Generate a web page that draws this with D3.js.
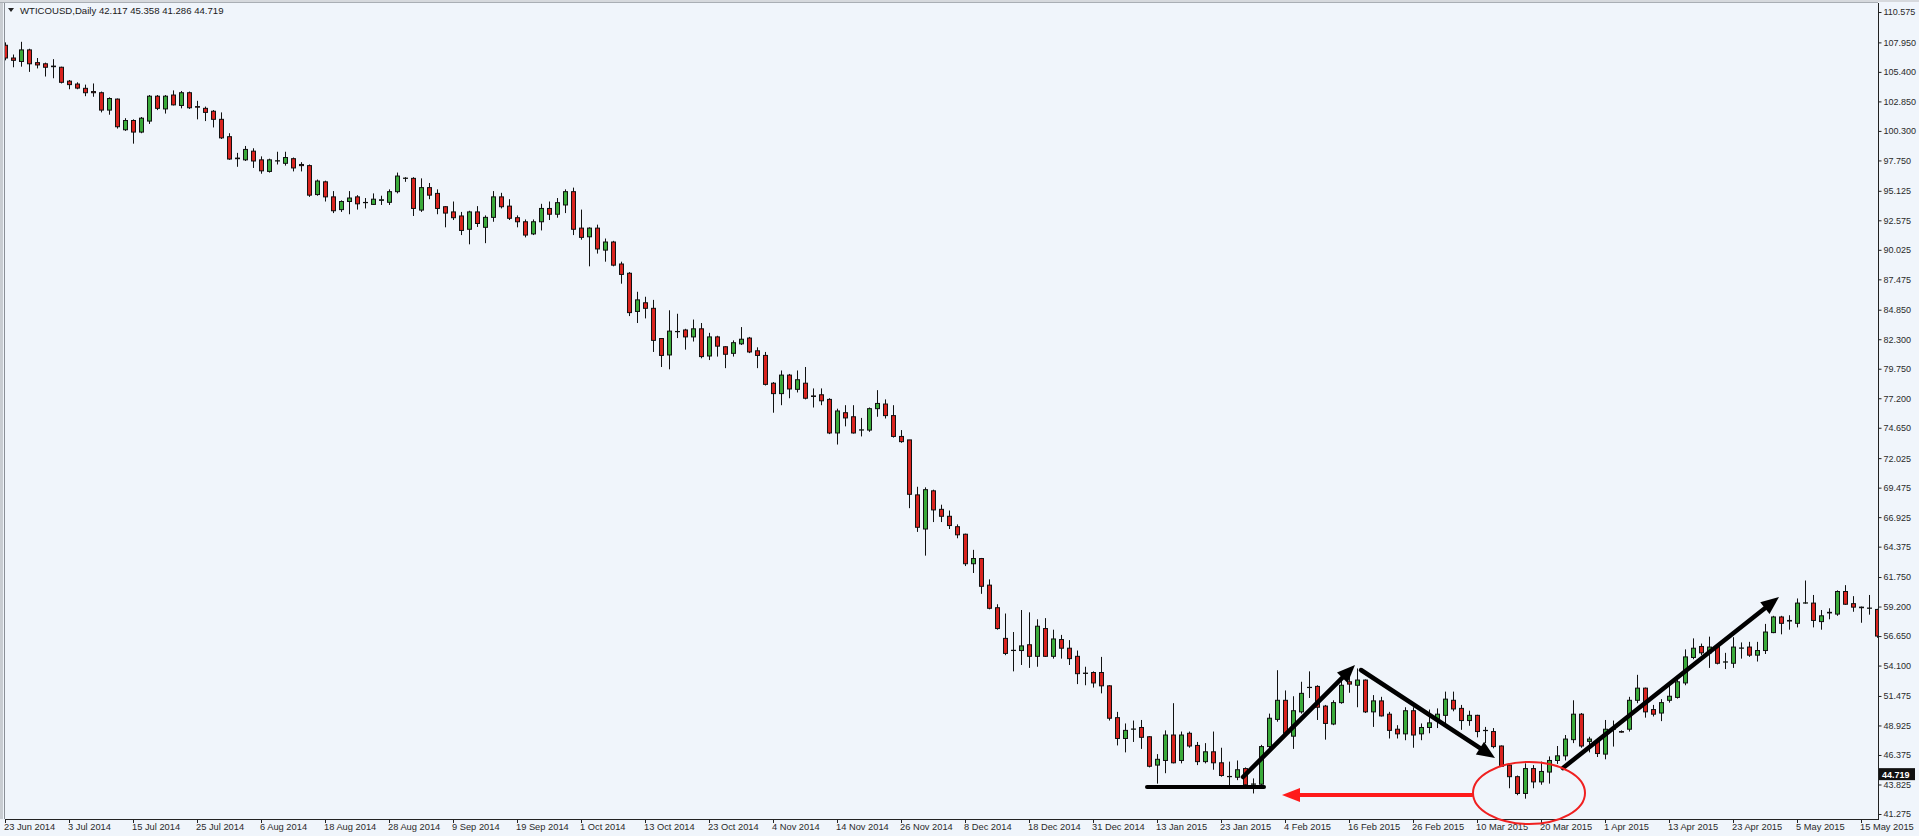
<!DOCTYPE html>
<html><head><meta charset="utf-8">
<script src="https://cdn.jsdelivr.net/npm/d3@7"></script>
<style>html,body{margin:0;padding:0;background:#F0F5FB;overflow:hidden}</style>
</head><body><svg id="c" width="1919" height="836"></svg>
<script>
// ---------- DATA ----------
const headerSymbol = "WTICOUSD,Daily";
const headerValues = ["42.117", "45.358", "41.286", "44.719"];
const lastPrice = 44.719;

const tickLabels = ["23 Jun 2014","3 Jul 2014","15 Jul 2014","25 Jul 2014","6 Aug 2014","18 Aug 2014","28 Aug 2014","9 Sep 2014","19 Sep 2014","1 Oct 2014","13 Oct 2014","23 Oct 2014","4 Nov 2014","14 Nov 2014","26 Nov 2014","8 Dec 2014","18 Dec 2014","31 Dec 2014","13 Jan 2015","23 Jan 2015","4 Feb 2015","16 Feb 2015","26 Feb 2015","10 Mar 2015","20 Mar 2015","1 Apr 2015","13 Apr 2015","23 Apr 2015","5 May 2015","15 May 2015"];
const barsPerTick = 8;

const priceTicks = [110.575,107.950,105.400,102.850,100.300,97.750,95.125,92.575,90.025,87.475,84.850,82.300,79.750,77.200,74.650,72.025,69.475,66.925,64.375,61.750,59.200,56.650,54.100,51.475,48.925,46.375,43.825,41.275];

const opens = [107.7,106.6,106.3,107.3,106.2,106.1,105.9,105.8,104.6,104.35,103.98,103.7,103.6,102.1,103.05,100.4,101.2,100.2,101.15,103.3,102.2,103.4,102.5,103.6,102.4,102.25,102.0,101.3,99.8,97.9,
97.8,98.55,97.8,96.8,97.7,97.5,97.9,97.4,97.3,94.8,95.9,94.6,93.5,94.2,94.6,94.1,93.95,94.3,94.13,95.05,
96.2,96.2,93.46,95.4,94.9,93.75,93.3,92.95,91.8,93.3,91.97,92.83,94.6,93.8,92.8,92.45,91.4,92.45,93.6,93.1,
93.9,95.05,91.9,91.15,91.9,90.0,90.7,88.8,88.0,84.7,85.45,84.97,82.36,80.94,82.95,83.1,82.5,83.2,80.85,82.5,
81.65,81.08,81.9,82.4,81.3,80.9,78.5,77.6,79.2,77.97,78.5,77.4,77.5,77.1,74.2,75.95,75.6,74.45,74.45,76.3,
76.7,75.7,73.9,73.6,68.85,65.9,69.2,67.6,67.0,66.1,65.45,62.9,63.35,61.05,59.1,56.45,55.4,55.4,55.9,54.9,
57.3,54.9,56.35,55.6,54.9,53.45,53.5,53.5,52.35,49.6,47.8,48.6,48.75,47.95,45.5,45.9,48.1,45.9,48.25,47.2,
45.8,46.65,45.7,44.5,44.45,45.2,43.85,43.85,47.1,49.45,51.1,48.0,50.1,52.2,52.3,50.6,49.05,50.9,52.7,52.4,
52.85,50.1,51.05,49.9,48.6,48.2,50.2,48.2,48.75,49.4,49.8,51.1,50.4,49.35,49.8,48.5,48.4,47.15,45.5,44.5,
43.05,45.2,44.05,44.9,45.9,46.3,47.7,49.9,47.55,47.55,46.45,48.6,48.4,48.6,51.1,52.15,50.3,50.0,51.1,51.35,
52.6,54.8,55.75,55.2,55.75,54.4,54.3,55.6,55.7,55.0,55.4,56.95,58.3,58.0,57.75,59.5,59.5,57.9,58.7,58.55,
60.5,59.45,59.15,59.05,58.95];
const highs = [107.95,106.9,108.0,107.4,106.6,106.2,106.5,105.85,104.7,104.5,104.3,104.4,103.7,103.2,103.1,101.4,101.3,101.5,103.4,103.4,103.4,103.8,103.75,103.7,102.9,102.4,102.1,101.9,100.1,98.4,
99.0,98.8,98.1,97.9,98.5,98.5,98.0,97.6,97.4,96.1,96.0,95.1,94.3,95.1,94.75,94.5,94.9,94.7,95.25,96.7,
96.3,96.3,96.2,95.8,95.25,93.8,94.2,93.3,93.4,93.8,93.0,95.1,94.95,94.4,93.0,92.65,92.65,94.0,94.2,94.5,
95.25,95.4,93.5,91.97,92.2,91.0,90.8,89.0,88.1,86.4,85.97,85.7,82.4,84.8,84.5,83.2,84.0,83.7,82.85,82.6,
81.7,82.2,83.35,82.5,81.6,81.2,78.6,79.6,79.3,79.6,79.9,78.05,78.05,77.2,76.3,76.6,76.6,75.5,76.4,77.9,
77.1,76.6,74.45,73.6,69.55,69.5,69.3,68.0,67.5,66.3,65.5,64.1,63.4,61.55,59.4,58.6,57.0,58.9,58.7,58.1,
58.2,57.2,56.75,56.3,55.4,54.0,53.6,54.85,52.4,50.1,49.1,49.35,49.4,48.0,46.45,48.5,50.85,48.4,48.4,47.5,
47.4,48.4,47.0,45.8,45.9,45.3,44.35,47.25,49.95,53.7,51.95,51.45,52.7,53.6,52.4,50.7,51.1,53.0,53.3,53.85,
52.9,51.55,51.4,50.1,48.95,50.5,50.5,49.1,50.3,50.4,51.85,51.85,50.7,50.2,49.85,48.8,48.7,47.2,45.65,44.6,
45.65,45.5,45.8,46.25,47.15,48.1,51.1,50.0,47.95,47.8,49.4,49.35,48.5,51.4,53.3,52.2,50.7,51.2,52.4,52.9,
55.5,56.45,56.0,56.6,55.8,55.2,56.55,56.1,56.15,56.15,57.7,58.4,58.4,58.45,59.9,61.45,60.2,58.9,59.05,60.6,
61.05,60.1,59.2,60.2,59.0];
const lows = [106.4,105.8,105.85,105.4,105.7,105.0,104.85,104.4,103.9,103.9,103.3,103.25,101.9,101.7,100.5,100.3,99.2,100.1,100.9,102.1,101.8,102.5,102.25,102.2,101.3,101.15,100.6,99.6,97.8,97.2,
97.7,97.1,96.6,96.7,97.4,97.3,96.8,96.8,94.6,94.7,94.2,93.2,93.3,93.1,93.5,93.6,93.9,93.9,93.9,94.9,
95.9,92.95,93.3,94.4,93.1,91.97,92.6,91.3,90.5,92.0,90.6,92.45,93.6,92.6,91.97,91.1,91.3,91.7,92.6,92.8,
93.2,91.3,90.9,88.6,89.7,89.0,88.6,87.1,84.3,83.7,84.1,81.2,79.9,79.7,82.4,81.4,82.1,80.65,80.5,80.8,
79.8,80.8,81.8,81.1,79.8,78.3,75.95,76.6,77.2,77.7,77.1,76.4,76.6,74.1,73.2,74.77,74.15,73.9,74.3,75.6,
75.45,73.8,73.35,67.7,65.65,63.6,66.5,66.5,65.9,65.1,62.7,62.1,60.3,58.96,57.2,55.0,53.6,54.15,53.9,54.0,
54.85,54.7,54.7,54.15,52.5,52.4,52.2,51.7,49.35,47.2,46.6,47.5,46.9,45.3,43.9,44.8,45.65,45.65,47.0,45.5,
45.65,45.1,44.5,43.6,44.2,43.7,43.05,43.7,46.95,49.25,48.1,46.9,49.95,51.3,49.4,47.7,48.95,50.8,51.75,50.5,
50.0,48.8,49.7,47.8,47.8,47.65,47.0,47.65,48.25,48.7,49.1,50.15,48.55,48.9,47.9,47.4,46.95,45.35,43.5,42.9,
42.6,43.5,43.8,43.9,45.6,45.9,47.4,47.0,46.6,46.2,46.0,47.1,48.3,48.4,50.85,49.6,49.7,49.3,50.9,51.25,
52.4,54.65,55.0,53.9,54.2,53.8,53.9,54.7,54.85,54.45,55.1,56.9,56.8,57.2,57.4,59.45,57.4,57.2,58.1,58.4,
59.35,58.75,57.8,58.5,56.5];
const closes = [106.6,106.4,107.3,106.1,106.0,105.8,105.85,104.5,104.3,104.0,103.6,103.6,102.1,103.1,100.66,101.2,100.2,101.4,103.3,102.25,103.3,102.55,103.6,102.3,102.35,101.9,101.3,99.7,97.87,97.95,
98.7,97.7,96.85,97.8,97.72,98.0,97.1,97.3,94.75,95.97,94.6,93.4,94.2,94.5,94.0,94.12,94.4,94.35,95.05,96.4,
96.22,93.6,95.4,94.75,93.6,93.2,92.8,91.7,93.3,92.3,92.83,94.6,93.75,92.75,92.45,91.3,92.45,93.6,93.1,94.1,
95.05,91.8,91.1,91.9,90.1,90.7,88.7,87.9,84.6,85.7,84.97,82.2,80.9,83.0,82.97,82.5,83.2,80.8,82.5,81.7,
81.0,82.0,82.3,81.2,80.9,78.4,77.6,79.2,78.0,78.8,77.2,77.35,76.98,74.2,76.1,75.5,74.2,74.47,76.3,76.75,
75.7,73.9,73.45,68.9,66.05,69.3,67.55,67.0,66.2,65.4,62.9,63.35,60.95,59.05,57.3,55.15,55.42,55.8,54.9,57.5,
54.9,56.4,55.6,54.7,53.4,53.42,52.6,52.35,49.55,47.8,48.5,48.62,47.9,45.4,46.0,48.1,45.7,48.1,47.15,45.8,
46.65,45.7,44.6,44.52,45.1,43.8,43.87,47.1,49.55,51.1,48.25,50.2,51.7,52.22,50.5,49.1,50.9,52.4,52.5,52.85,
50.1,51.05,49.75,48.5,48.2,50.2,48.1,48.75,49.15,49.9,51.2,50.35,49.35,49.8,48.4,48.48,47.1,45.4,44.5,43.05,
45.2,44.05,44.95,45.9,46.3,47.75,49.9,47.15,47.75,46.5,48.6,48.62,48.35,51.1,52.15,50.1,49.9,50.9,51.45,52.7,
54.85,55.6,55.2,55.7,54.3,54.42,55.7,55.62,55.0,55.4,57.0,58.3,57.75,57.95,59.5,59.52,58.0,58.4,58.65,60.5,
59.4,59.15,59.1,59.07,56.65];

// ---------- DRAW ----------
const W = 1919, H = 836;
const L = 5, R = 1878, T = 3, B = 819;
const FONT = "'Liberation Sans', Arial, sans-serif";
const svg = d3.select("#c");
const bg = "#F0F5FB";
svg.append("rect").attr("width", W).attr("height", H).attr("fill", bg);

const n = opens.length;
const x = d3.scaleLinear().domain([0, n - 1]).range([5, 5 + 8 * (n - 1)]);
const y = d3.scaleLinear().domain([41.275, 110.575]).range([814, 12]);

// frame
svg.append("rect").attr("x", 0).attr("y", 0).attr("width", 3).attr("height", B).attr("fill", "#C9CDD2");
svg.append("line").attr("x1", 4.5).attr("x2", 4.5).attr("y1", 0).attr("y2", B).attr("stroke", "#8A8F96");
svg.append("line").attr("x1", 0).attr("x2", R).attr("y1", 2.5).attr("y2", 2.5).attr("stroke", "#A9AEB4");
svg.append("rect").attr("x", 0).attr("y", 0).attr("width", W).attr("height", 2).attr("fill", "#D6D9DD");

const defs = svg.append("defs");
defs.append("clipPath").attr("id", "plot").append("rect")
  .attr("x", L).attr("y", T).attr("width", R - L).attr("height", B - T);

const g = svg.append("g").attr("clip-path", "url(#plot)");
const data = d3.range(n).map(i => ({i, o: opens[i], h: highs[i], l: lows[i], c: closes[i]}));

const cg = g.selectAll("g.candle").data(data).join("g").attr("class", "candle");
cg.append("line")
  .attr("x1", d => Math.round(x(d.i)) + 0.5).attr("x2", d => Math.round(x(d.i)) + 0.5)
  .attr("y1", d => y(d.h)).attr("y2", d => y(d.l))
  .attr("stroke", "#111").attr("stroke-width", 1);
cg.append("rect")
  .attr("x", d => Math.round(x(d.i)) - 1.5)
  .attr("width", 4)
  .attr("y", d => y(Math.max(d.o, d.c)))
  .attr("height", d => Math.max(0.01, Math.abs(y(d.o) - y(d.c))))
  .attr("fill", d => d.c >= d.o ? "#3AAA3A" : "#D9231E")
  .attr("stroke", "#111").attr("stroke-width", 1);

// axes lines
svg.append("line").attr("x1", R + 0.5).attr("x2", R + 0.5).attr("y1", T).attr("y2", B + 1).attr("stroke", "#222");
svg.append("line").attr("x1", L).attr("x2", R + 1).attr("y1", B + 0.5).attr("y2", B + 0.5).attr("stroke", "#222");

// price axis via d3 axis
const yAxis = d3.axisRight(y).tickValues(priceTicks).tickFormat(d3.format(".3f")).tickSize(3).tickPadding(2);
const ya = svg.append("g").attr("transform", `translate(${R + 0.5},0)`).call(yAxis);
ya.select(".domain").remove();
ya.selectAll("line").attr("stroke", "#222");
ya.selectAll("text").attr("fill", "#2a2a2a").style("font-family", FONT).style("font-size", "9px");

// last price box
const lp = svg.append("g");
lp.append("rect").attr("x", R + 1).attr("y", y(lastPrice) - 6).attr("width", 36).attr("height", 12).attr("fill", "#111");
lp.append("text").attr("x", R + 4).attr("y", y(lastPrice) + 3.5).attr("fill", "#fff")
  .style("font-family", FONT).style("font-size", "9px").style("font-weight", "bold")
  .text(d3.format(".3f")(lastPrice));

// date axis
const tickIdx = tickLabels.map((t, k) => k * barsPerTick);
const xa = svg.append("g");
xa.selectAll("line").data(tickIdx).join("line")
  .attr("x1", d => Math.round(x(d)) + 0.5).attr("x2", d => Math.round(x(d)) + 0.5)
  .attr("y1", B).attr("y2", B + 4).attr("stroke", "#222");
xa.selectAll("text").data(tickLabels).join("text")
  .attr("x", (t, k) => x(tickIdx[k]) - 1).attr("y", 830)
  .attr("fill", "#2a2a2a")
  .style("font-family", FONT).style("font-size", "9.3px")
  .text(t => t);

// header
svg.append("path").attr("d", "M8,8 L14,8 L11,12 Z").attr("fill", "#222");
svg.append("text").attr("x", 20).attr("y", 14).attr("fill", "#1a1a1a")
  .style("font-family", FONT).style("font-size", "9.6px")
  .text(headerSymbol + "  " + headerValues.join(" "));

// ---------- annotations ----------
const ann = svg.append("g");
function arrow(x1, y1, x2, y2, color, w, headLen, headW) {
  const ang = Math.atan2(y2 - y1, x2 - x1);
  const bx = x2 - headLen * Math.cos(ang), by = y2 - headLen * Math.sin(ang);
  ann.append("line").attr("x1", x1).attr("y1", y1).attr("x2", bx + 2 * Math.cos(ang)).attr("y2", by + 2 * Math.sin(ang))
    .attr("stroke", color).attr("stroke-width", w).attr("stroke-linecap", "round");
  const px = -Math.sin(ang), py = Math.cos(ang);
  ann.append("path").attr("d",
    `M${x2},${y2} L${bx + px * headW / 2},${by + py * headW / 2} L${bx - px * headW / 2},${by - py * headW / 2} Z`)
    .attr("fill", color);
}
// support line
ann.append("line").attr("x1", 1147).attr("x2", 1264).attr("y1", 787).attr("y2", 787)
  .attr("stroke", "#000").attr("stroke-width", 4).attr("stroke-linecap", "round");
arrow(1243, 777, 1355, 665, "#000", 4.5, 18, 15);
arrow(1361, 670, 1495, 758, "#000", 4.5, 18, 15);
arrow(1563, 768, 1779, 597, "#000", 4.5, 18, 15);
arrow(1472, 795, 1282, 795, "#FF1A1A", 4, 18, 14);
ann.append("ellipse").attr("cx", 1529).attr("cy", 793).attr("rx", 56).attr("ry", 31)
  .attr("fill", "none").attr("stroke", "#F02020").attr("stroke-width", 2);
</script>
</body></html>
